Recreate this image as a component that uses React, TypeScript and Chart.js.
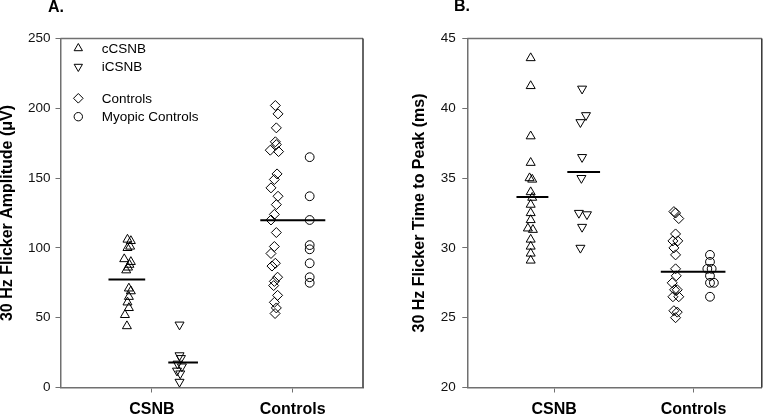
import React, { useEffect, useRef } from 'react';
import { Chart, registerables } from 'chart.js';

Chart.register(...registerables);

const FONT = '"Liberation Sans", Arial, Helvetica, sans-serif';

// ---------- shared data ----------
const categories = ['CSNB', 'Controls'];
const seriesNames = ['cCSNB', 'iCSNB', 'Controls', 'Myopic Controls'];

// ---------- Panel A: 30 Hz flicker amplitude (µV) ----------
const ampCCSNB = [106, 105, 101, 100, 92, 90, 88, 86, 84, 71, 69, 65, 61, 57, 52, 44];
const ampCCSNBx = [-0.174, -0.15, -0.155, -0.174, -0.197, -0.15, -0.16, -0.17, -0.183, -0.164, -0.15, -0.164, -0.174, -0.164, -0.192, -0.178];
const ampICSNB = [45, 23, 21, 17, 15, 12, 10, 4];
const ampICSNBx = [0.196, 0.196, 0.206, 0.182, 0.213, 0.178, 0.201, 0.196];
const ampControls = [202, 196, 186, 176, 174, 170, 169, 153, 149, 143, 137, 131, 124, 120, 111, 101, 96, 89, 87, 79, 76, 73, 66, 61, 57, 53];
const ampControlsx = [-0.123, -0.104, -0.116, -0.123, -0.116, -0.159, -0.1, -0.111, -0.13, -0.154, -0.104, -0.116, -0.13, -0.154, -0.116, -0.13, -0.154, -0.123, -0.147, -0.107, -0.13, -0.135, -0.107, -0.13, -0.116, -0.125];
const ampMyopic = [165, 137, 120, 102, 99, 89, 79, 75];
const ampMyopicx = [0.121, 0.121, 0.121, 0.121, 0.121, 0.121, 0.121, 0.121];
const ampMeans = [77.4, 17.9, 119.8]; // cCSNB, iCSNB, all controls
const ampTicks = [0, 50, 100, 150, 200, 250];

// ---------- Panel B: 30 Hz flicker time to peak (ms) ----------
const ttpCCSNB = [43.6, 41.6, 38.0, 36.1, 35.0, 34.9, 34.0, 33.6, 33.1, 32.5, 32.0, 31.4, 31.3, 30.6, 30.1, 29.6, 29.1];
const ttpCCSNBx = [-0.169, -0.169, -0.169, -0.169, -0.177, -0.158, -0.169, -0.158, -0.169, -0.169, -0.169, -0.189, -0.153, -0.169, -0.169, -0.169, -0.169];
const ttpICSNB = [41.4, 39.5, 39.0, 36.5, 35.0, 32.5, 32.4, 31.5, 30.0];
const ttpICSNBx = [0.2, 0.228, 0.188, 0.2, 0.195, 0.177, 0.235, 0.2, 0.188];
const ttpControls = [32.6, 32.5, 32.1, 31.0, 30.5, 30.5, 30.0, 29.5, 28.5, 28.0, 27.5, 27.0, 27.0, 26.5, 26.5, 25.5, 25.4, 25.0];
const ttpControlsx = [-0.141, -0.129, -0.106, -0.129, -0.148, -0.113, -0.141, -0.129, -0.129, -0.124, -0.153, -0.117, -0.136, -0.148, -0.106, -0.141, -0.117, -0.129];
const ttpMyopic = [29.5, 29.0, 28.5, 28.5, 28.0, 27.5, 27.5, 26.5];
const ttpMyopicx = [0.118, 0.118, 0.099, 0.13, 0.118, 0.118, 0.146, 0.118];
const ttpMeans = [33.65, 35.43, 28.29];
const ttpTicks = [20, 25, 30, 35, 40, 45];

function pts(values: number[], offsets: number[], base: number) {
  return values.map((v, i) => ({ x: base + offsets[i], y: v }));
}

function meanLine(value: number, x0: number, x1: number) {
  return {
    type: 'line' as const,
    data: [{ x: x0, y: value }, { x: x1, y: value }],
    borderColor: '#000',
    borderWidth: 2,
    pointRadius: 0,
    showLine: true,
    fill: false,
  };
}

function marker(style: string, r: number, rotation = 0) {
  return {
    pointStyle: style,
    pointRadius: r,
    pointHoverRadius: r,
    rotation,
    borderColor: '#000',
    borderWidth: 1,
    backgroundColor: 'rgba(0,0,0,0)',
    showLine: false,
  };
}

function drawShape(ctx: CanvasRenderingContext2D, kind: string, x: number, y: number, r: number) {
  ctx.beginPath();
  if (kind === 'up' || kind === 'down') {
    const s = kind === 'up' ? 1 : -1;
    ctx.moveTo(x, y - s * r);
    ctx.lineTo(x + r * 0.866, y + s * r * 0.5);
    ctx.lineTo(x - r * 0.866, y + s * r * 0.5);
    ctx.closePath();
  } else if (kind === 'diamond') {
    ctx.moveTo(x, y - r);
    ctx.lineTo(x + r, y);
    ctx.lineTo(x, y + r);
    ctx.lineTo(x - r, y);
    ctx.closePath();
  } else {
    ctx.arc(x, y, r, 0, Math.PI * 2);
  }
  ctx.stroke();
}

const framePlugin = {
  id: 'frame',
  afterDraw(chart: any, _args: any, opts: any) {
    const { ctx, chartArea: a } = chart;
    ctx.save();
    ctx.lineWidth = 1.5;
    ctx.strokeStyle = '#707070';
    ctx.beginPath();
    ctx.moveTo(a.left, a.top);
    ctx.lineTo(a.right, a.top);
    ctx.stroke();
    ctx.strokeStyle = '#333';
    ctx.beginPath();
    ctx.moveTo(a.right, a.top);
    ctx.lineTo(a.right, a.bottom);
    ctx.stroke();

    ctx.fillStyle = '#000';
    ctx.font = `bold 16px ${FONT}`;
    ctx.textBaseline = 'middle';
    ctx.textAlign = 'left';
    ctx.fillText(opts.letter, opts.letterX, opts.letterY);

    if (opts.legend) {
      const kinds = ['up', 'down', 'diamond', 'circle'];
      const rows = [48.3, 66.7, 98.3, 116.7];
      ctx.lineWidth = 1;
      ctx.strokeStyle = '#000';
      ctx.font = `13.5px ${FONT}`;
      seriesNames.forEach((name, i) => {
        drawShape(ctx, kinds[i], 78.3, rows[i], kinds[i] === 'circle' ? 4.2 : 4.8);
        ctx.fillText(name, 101.7, rows[i] + 0.5);
      });
    }
    ctx.restore();
  },
};

interface PanelSpec {
  data: { c: number[]; cx: number[]; i: number[]; ix: number[]; k: number[]; kx: number[]; m: number[]; mx: number[]; means: number[] };
  yTicks: number[];
  yTitle: string;
  xMin: number;
  xMax: number;
  padLeft: number;
  yWidth: number;
  padRight: number;
  tickPad: number;
  lines: number[][];
  letter: string;
  letterX: number;
  letterY: number;
  legend: boolean;
}

function buildConfig(p: PanelSpec): any {
  const d = p.data;
  return {
    type: 'scatter',
    data: {
      datasets: [
        { data: pts(d.c, d.cx, 1), ...marker('triangle', 5.2) },
        { data: pts(d.i, d.ix, 1), ...marker('triangle', 5.2, 180) },
        { data: pts(d.k, d.kx, 2), ...marker('rectRot', 5) },
        { data: pts(d.m, d.mx, 2), ...marker('circle', 4.4) },
        meanLine(d.means[0], p.lines[0][0], p.lines[0][1]),
        meanLine(d.means[1], p.lines[1][0], p.lines[1][1]),
        meanLine(d.means[2], p.lines[2][0], p.lines[2][1]),
      ],
    },
    options: {
      animation: false,
      responsive: false,
      events: [],
      layout: { padding: { left: p.padLeft, top: 38.5, right: p.padRight, bottom: 0 } },
      plugins: {
        legend: { display: false },
        tooltip: { enabled: false },
        frame: { letter: p.letter, letterX: p.letterX, letterY: p.letterY, legend: p.legend },
      },
      scales: {
        x: {
          type: 'linear',
          min: p.xMin,
          max: p.xMax,
          afterFit: (s: any) => { s.height = 29.5; },
          afterBuildTicks: (s: any) => { s.ticks = [{ value: 1 }, { value: 2 }]; },
          ticks: {
            callback: (v: number) => (v === 1 ? categories[0] : v === 2 ? categories[1] : ''),
            color: '#000',
            font: { family: FONT, size: 16, weight: 'bold' },
            padding: 7,
            maxRotation: 0,
            autoSkip: false,
          },
          grid: { drawOnChartArea: false, drawTicks: true, tickLength: 5, color: '#707070', lineWidth: 1 },
          border: { display: true, color: '#707070', width: 1.5 },
        },
        y: {
          type: 'linear',
          min: p.yTicks[0],
          max: p.yTicks[p.yTicks.length - 1],
          afterFit: (s: any) => { s.width = p.yWidth; },
          afterBuildTicks: (s: any) => { s.ticks = p.yTicks.map((v) => ({ value: v })); },
          ticks: {
            color: '#111',
            font: { family: FONT, size: 13.5 },
            padding: p.tickPad,
          },
          grid: { drawOnChartArea: false, drawTicks: true, tickLength: 5, color: '#707070', lineWidth: 1 },
          border: { display: true, color: '#707070', width: 1.5 },
          title: {
            display: true,
            text: p.yTitle,
            color: '#000',
            font: { family: FONT, size: 16, weight: 'bold', lineHeight: 1 },
            padding: { top: 0, bottom: 0 },
          },
        },
      },
    },
    plugins: [framePlugin],
  };
}

const panelA: PanelSpec = {
  data: { c: ampCCSNB, cx: ampCCSNBx, i: ampICSNB, ix: ampICSNBx, k: ampControls, kx: ampControlsx, m: ampMyopic, mx: ampMyopicx, means: ampMeans },
  yTicks: ampTicks,
  yTitle: '30 Hz Flicker Amplitude (\u03BCV)',
  xMin: 0.35,
  xMax: 2.5,
  padLeft: 0,
  yWidth: 60.5,
  padRight: 21,
  tickPad: 5,
  lines: [[0.691, 0.952], [1.116, 1.327], [1.77, 2.232]],
  letter: 'A.',
  letterX: 48,
  letterY: 7.5,
  legend: true,
};

const panelB: PanelSpec = {
  data: { c: ttpCCSNB, cx: ttpCCSNBx, i: ttpICSNB, ix: ttpICSNBx, k: ttpControls, kx: ttpControlsx, m: ttpMyopic, mx: ttpMyopicx, means: ttpMeans },
  yTicks: ttpTicks,
  yTitle: '30 Hz Flicker Time to Peak (ms)',
  xMin: 0.376,
  xMax: 2.49,
  padLeft: 27.5,
  yWidth: 55.8,
  padRight: 1.3,
  tickPad: 6.5,
  lines: [[0.729, 0.958], [1.094, 1.329], [1.765, 2.229]],
  letter: 'B.',
  letterX: 70,
  letterY: 6.5,
  legend: false,
};

function Panel({ spec }: { spec: PanelSpec }) {
  const ref = useRef<HTMLCanvasElement | null>(null);
  useEffect(() => {
    if (!ref.current) return;
    const chart = new Chart(ref.current, buildConfig(spec));
    return () => chart.destroy();
  }, [spec]);
  return <canvas ref={ref} width={384} height={417} style={{ display: 'block', width: 384, height: 417 }} />;
}

export default function App() {
  useEffect(() => {
    document.body.style.margin = '0';
    document.body.style.background = '#fff';
  }, []);
  return (
    <div style={{ display: 'flex', width: 768, height: 417, background: '#fff' }}>
      <Panel spec={panelA} />
      <Panel spec={panelB} />
    </div>
  );
}
